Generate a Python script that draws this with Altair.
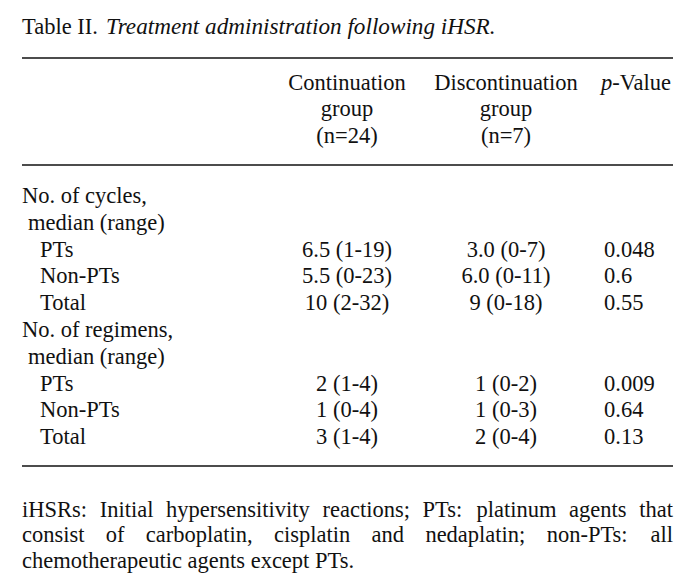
import altair as alt
import pandas as pd

# ---------------- data ----------------
title_plain = "Table II."
title_italic = "Treatment administration following iHSR."
header_cont = ["Continuation", "group", "(n=24)"]
header_disc = ["Discontinuation", "group", "(n=7)"]
header_p_italic = "p"
header_p_rest = "-Value"
row_labels = ["No. of cycles,", "median (range)", "PTs", "Non-PTs", "Total",
              "No. of regimens,", "median (range)", "PTs", "Non-PTs", "Total"]
row_level = [0, 1, 2, 2, 2, 0, 1, 2, 2, 2]
cont_vals = ["", "", "6.5 (1-19)", "5.5 (0-23)", "10 (2-32)",
             "", "", "2 (1-4)", "1 (0-4)", "3 (1-4)"]
disc_vals = ["", "", "3.0 (0-7)", "6.0 (0-11)", "9 (0-18)",
             "", "", "1 (0-2)", "1 (0-3)", "2 (0-4)"]
p_vals = ["", "", "0.048", "0.6", "0.55", "", "", "0.009", "0.64", "0.13"]
footnote_lines = [
    "iHSRs: Initial hypersensitivity reactions; PTs: platinum agents that",
    "consist of carboplatin, cisplatin and nedaplatin; non-PTs: all",
    "chemotherapeutic agents except PTs.",
]
footnote_justify = [True, True, False]

# ---------------- layout ----------------
FS = 22.5
FONT = "Liberation Serif"
L, R = 22, 673
indent_x = [22, 28, 40]
col1_x, col2_x, col3_x, col3_data_x = 347, 506, 601, 604
title_y = 27
header_y0, header_dy = 83, 26.3
row_y0, row_dy = 196, 26.8
foot_y0, foot_dy = 509.5, 25.6
rule_ys = [58, 165, 466]

# Times-Roman advance widths (per 1000 em)
W = dict(zip("abcdefghijklmnopqrstuvwxyz",
             [444, 500, 444, 500, 444, 333, 500, 500, 278, 278, 500, 278, 778,
              500, 500, 500, 500, 333, 389, 278, 500, 500, 722, 500, 500, 444]))
W.update(dict(zip("ABCDEFGHIJKLMNOPQRSTUVWXYZ",
                  [722, 667, 667, 722, 611, 556, 722, 722, 333, 389, 722, 611, 889,
                   722, 722, 556, 722, 667, 556, 611, 722, 722, 944, 722, 722, 611])))
W.update({":": 278, ";": 278, ",": 250, ".": 250, "-": 333, "(": 333, ")": 333,
          " ": 250, "=": 564})
for d in "0123456789":
    W[d] = 500


def tw(s):
    return sum(W.get(c, 500) for c in s) / 1000 * FS


left_rows, center_rows, italic_rows = [], [], []

# title
left_rows.append({"x": L, "y": title_y, "t": title_plain})
italic_rows.append({"x": L + tw(title_plain + " ") + 1, "y": title_y, "t": title_italic})

# header
for i, (a, b) in enumerate(zip(header_cont, header_disc)):
    y = header_y0 + i * header_dy
    center_rows.append({"x": col1_x, "y": y, "t": a})
    center_rows.append({"x": col2_x, "y": y, "t": b})
italic_rows.append({"x": col3_x, "y": header_y0, "t": header_p_italic})
left_rows.append({"x": col3_x + 0.5 * FS, "y": header_y0, "t": header_p_rest})

# body
for i, lab in enumerate(row_labels):
    y = row_y0 + i * row_dy
    left_rows.append({"x": indent_x[row_level[i]], "y": y, "t": lab})
    if cont_vals[i]:
        center_rows.append({"x": col1_x, "y": y, "t": cont_vals[i]})
    if disc_vals[i]:
        center_rows.append({"x": col2_x, "y": y, "t": disc_vals[i]})
    if p_vals[i]:
        left_rows.append({"x": col3_data_x, "y": y, "t": p_vals[i]})

# footnote (justified)
for i, line in enumerate(footnote_lines):
    y = foot_y0 + i * foot_dy
    words = line.split(" ")
    if footnote_justify[i] and len(words) > 1:
        total = sum(tw(w) for w in words)
        gap = (R - L - total) / (len(words) - 1)
        x = L
        for w in words:
            left_rows.append({"x": x, "y": y, "t": w})
            x += tw(w) + gap
    else:
        left_rows.append({"x": L, "y": y, "t": line})

rules = pd.DataFrame({"x": [L] * 3, "x2": [R] * 3, "y": rule_ys})

WIDTH, HEIGHT = 682, 566
xs = alt.Scale(domain=[8, 8 + WIDTH], range=[0, WIDTH], nice=False, zero=False)
ys = alt.Scale(domain=[8, 8 + HEIGHT], range=[0, HEIGHT], nice=False, zero=False)


def text_layer(rows, align, italic=False, size=FS):
    kw = dict(align=align, baseline="middle", font=FONT, fontSize=size, color="#111111")
    if italic:
        kw["fontStyle"] = "italic"
    return alt.Chart(pd.DataFrame(rows)).mark_text(**kw).encode(
        x=alt.X("x:Q", scale=xs, axis=None),
        y=alt.Y("y:Q", scale=ys, axis=None),
        text="t:N",
    )


rule_layer = alt.Chart(rules).mark_rule(color="#111111", strokeWidth=1.5).encode(
    x=alt.X("x:Q", scale=xs, axis=None),
    x2="x2:Q",
    y=alt.Y("y:Q", scale=ys, axis=None),
)

chart = alt.layer(
    rule_layer,
    text_layer(left_rows, "left"),
    text_layer(center_rows, "center"),
    text_layer(italic_rows[:1], "left", italic=True, size=23.2),
    text_layer(italic_rows[1:], "left", italic=True),
).properties(
    width=WIDTH, height=HEIGHT, padding=0, autosize=alt.AutoSizeParams(type="none"),
    background="white",
).configure_view(stroke=None)

chart.save("out.html", embed_options={"renderer": "svg", "actions": False})
